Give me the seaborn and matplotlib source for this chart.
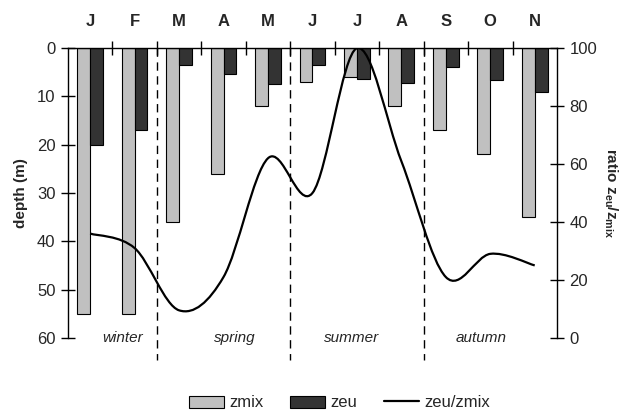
import matplotlib
matplotlib.use("Agg")
import matplotlib.pyplot as plt
from matplotlib.path import Path
from matplotlib.patches import PathPatch, Patch
from matplotlib.lines import Line2D
import numpy as np
import pandas as pd
import seaborn as sns

# Data
months = ['Jan', 'Feb', 'Mar', 'Apr', 'May', 'Jun', 'Jul', 'Aug', 'Sep', 'Oct', 'Nov']
month_labels = ['J', 'F', 'M', 'A', 'M', 'J', 'J', 'A', 'S', 'O', 'N']
zmix = [55, 55, 36, 26, 12, 7, 6, 12, 17, 22, 35]
zeu = [20, 17, 3.5, 5.4, 7.5, 3.5, 6.3, 7.3, 3.9, 6.5, 9]
ratio = [36, 31, 9.5, 21, 62, 50, 100, 61, 21, 29, 25]
seasons = ['winter', 'spring', 'summer', 'autumn']
season_pos = [0.72, 3.25, 5.88, 8.8]
season_breaks = [1.5, 4.5, 7.5]

ZMIX_COLOR = '#c0c0c0'
ZEU_COLOR = '#333333'


def smooth_path(xs, ys):
    # Catmull-Rom segments as cubic bezier, like a spreadsheet "smoothed line"
    pts = np.column_stack([xs, ys]).astype(float)
    ext = np.vstack([pts[0], pts, pts[-1]])
    verts = [pts[0]]
    codes = [Path.MOVETO]
    for i in range(1, len(ext) - 2):
        p0, p1, p2, p3 = ext[i - 1], ext[i], ext[i + 1], ext[i + 2]
        verts += [p1 + (p2 - p0) / 6, p2 - (p3 - p1) / 6, p2]
        codes += [Path.CURVE4] * 3
    return Path(verts, codes)


def main():
    sns.set_style('ticks')
    plt.rcParams['font.family'] = ['Liberation Sans', 'DejaVu Sans']

    df = pd.DataFrame({
        'month': months * 2,
        'depth': zmix + zeu,
        'series': ['zmix'] * len(months) + ['zeu'] * len(months),
    })

    fig = plt.figure(figsize=(6.23, 4.12), dpi=100)
    ax = fig.add_axes([0.109, 0.180, 0.785, 0.703])

    sns.barplot(data=df, x='month', y='depth', hue='series', order=months,
                hue_order=['zmix', 'zeu'], palette=[ZMIX_COLOR, ZEU_COLOR],
                width=0.58, edgecolor='black', linewidth=0.8, saturation=1,
                legend=False, ax=ax)

    ax.set_xlim(-0.5, 10.5)
    ax.set_ylim(60, 0)
    ax.set_yticks([0, 10, 20, 30, 40, 50, 60])
    ax.set_ylabel('depth (m)', fontsize=11, fontweight='bold', labelpad=6)
    ax.set_xlabel('')

    # months on top
    ax.xaxis.tick_top()
    ax.set_xticks(range(len(months)))
    ax.set_xticklabels(month_labels, fontsize=12, fontweight='bold')
    ax.set_xticks(np.arange(0.5, len(months) - 1, 1.0), minor=True)
    ax.tick_params(axis='x', which='major', length=0, pad=14)
    ax.tick_params(axis='x', which='minor', length=10, direction='inout', width=1, color='black')
    ax.tick_params(axis='y', length=10, direction='inout', width=1, color='black', labelsize=12, pad=4)

    for s in ['bottom', 'right']:
        ax.spines[s].set_visible(False)
    for s in ['top', 'left']:
        ax.spines[s].set_color('black')
        ax.spines[s].set_linewidth(1)

    # season separators and names
    for xb in season_breaks:
        ax.plot([xb, xb], [0, 64.5], color='black', lw=1, ls=(0, (6, 4)), clip_on=False, zorder=1)
    for name, xp in zip(seasons, season_pos):
        ax.text(xp, 60, name, ha='center', va='center', fontsize=11, style='italic')

    # ratio on the right axis
    ax2 = ax.twinx()
    ax2.set_ylim(0, 100)
    ax2.set_yticks([0, 20, 40, 60, 80, 100])
    ax2.add_patch(PathPatch(smooth_path(range(len(months)), ratio), facecolor='none',
                            edgecolor='black', lw=1.6))
    ax2.tick_params(axis='y', length=10, direction='inout', width=1, color='black', labelsize=12, pad=4)
    for s in ['top', 'bottom', 'left']:
        ax2.spines[s].set_visible(False)
    ax2.spines['right'].set_color('black')
    ax2.spines['right'].set_linewidth(1)
    ax2.set_ylabel(r'ratio z$_\mathregular{eu}$/z$_\mathregular{mix}$', fontsize=11,
                   fontweight='bold', rotation=270, labelpad=16)

    handles = [
        Patch(facecolor=ZMIX_COLOR, edgecolor='black', lw=0.8),
        Patch(facecolor=ZEU_COLOR, edgecolor='black', lw=0.8),
        Line2D([0], [0], color='black', lw=1.6),
    ]
    fig.legend(handles, ['zmix', 'zeu', 'zeu/zmix'], loc='center', bbox_to_anchor=(0.545, 0.022),
               ncol=3, frameon=False, fontsize=12, handlelength=2.1, handleheight=0.75,
               columnspacing=1.6, handletextpad=0.3)

    fig.savefig('out.png', dpi=100)
    plt.close(fig)


if __name__ == '__main__':
    main()
